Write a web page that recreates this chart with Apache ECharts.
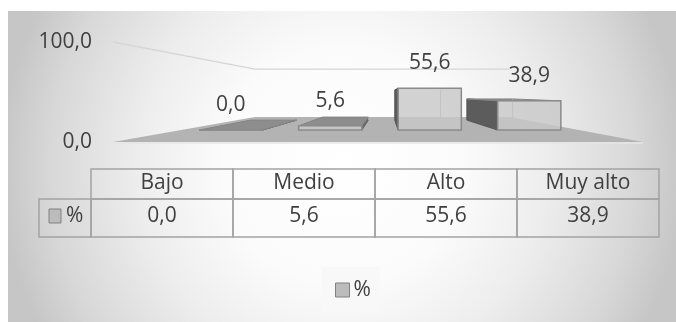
<!DOCTYPE html>
<html><head><meta charset="utf-8">
<script src="https://cdn.jsdelivr.net/npm/echarts@6/dist/echarts.min.js"></script>
<style>html,body{margin:0;padding:0;background:#fff}#c{width:676px;height:322px}</style>
</head><body><div id="c"></div>
<script>
// ---- data ----
const categories = ['Bajo', 'Medio', 'Alto', 'Muy alto'];
const values = [0.0, 5.6, 55.6, 38.9];
const seriesName = '%';
const yTicks = [0, 100];

// ---- style ----
const FONT = '"Open Sans", sans-serif';
const FS = 21;
const TXT = '#404040';
const fmt = v => Number(v).toFixed(1).replace('.', ',');

// perspective parameters (relative to the front-plane grid)
const VPX = 0.515, VPY = 0.52;
const T_FRONT = 0.249, T_BACK = 0.456, T_FLOOR = 0.52;

function vp(cs) { return [cs.x + cs.width * VPX, cs.y + cs.height * VPY]; }
function proj(cs, x, y, t) {
  const v = vp(cs);
  return [x + (v[0] - x) * t, y + (v[1] - y) * t];
}

function renderWalls(params, api) {
  const cs = params.coordSys;
  const x0 = cs.x, x1 = cs.x + cs.width;
  const yb = api.coord([0, yTicks[0]])[1];
  const yt = api.coord([0, yTicks[1]])[1];
  const floor = [proj(cs, x0, yb, 0), proj(cs, x1, yb, 0), proj(cs, x1, yb, T_FLOOR), proj(cs, x0, yb, T_FLOOR)];
  const g = [proj(cs, x0, yt, 0), proj(cs, x0, yt, T_FLOOR), proj(cs, x1, yt, T_FLOOR)];
  return {
    type: 'group', children: [
      { type: 'polyline', shape: { points: g }, style: { stroke: '#d6d6d6', lineWidth: 1.3, fill: null } },
      { type: 'line', shape: { x1: floor[0][0], y1: floor[0][1] + 1, x2: floor[1][0], y2: floor[1][1] + 1 }, style: { stroke: '#e6e6e6', lineWidth: 1.5 } },
      { type: 'polygon', shape: { points: floor }, style: { fill: '#b3b3b3' } }
    ]
  };
}

function renderBar(params, api) {
  const cs = params.coordSys;
  const i = api.value(0), v = api.value(1);
  const base = api.coord([i, 0]), top = api.coord([i, v]);
  const bw = api.size([1, 0])[0] * 0.635;
  const xl = base[0] - bw / 2, xr = base[0] + bw / 2;
  const P = (x, y, t) => proj(cs, x, y, t);
  const fl = P(xl, base[1], T_FRONT), fr = P(xr, base[1], T_FRONT);
  const ftl = P(xl, top[1], T_FRONT), ftr = P(xr, top[1], T_FRONT);
  const bl = P(xl, base[1], T_BACK), br = P(xr, base[1], T_BACK);
  const btl = P(xl, top[1], T_BACK), btr = P(xr, top[1], T_BACK);
  const V = vp(cs);
  const ch = [];
  if (xl > V[0]) {
    ch.push({ type: 'polygon', shape: { points: [bl, btl, ftl, fl] }, style: { fill: '#5c5c5c', stroke: '#555', lineWidth: 1 } });
  } else if (xr < V[0]) {
    ch.push({ type: 'polygon', shape: { points: [fr, ftr, btr, br] }, style: { fill: '#6a6a6a', stroke: '#666', lineWidth: 1 } });
  }
  if (top[1] > V[1]) {
    ch.push({ type: 'polygon', shape: { points: [ftl, ftr, btr, btl] }, style: { fill: '#8d8d8d', stroke: '#858585', lineWidth: 1 } });
  }
  if (v > 0) {
    ch.push({ type: 'line', shape: { x1: btr[0], y1: btr[1], x2: br[0], y2: br[1] }, style: { stroke: '#a8a8a8', lineWidth: 1 } });
  }
  ch.push({ type: 'polygon', shape: { points: [fl, fr, ftr, ftl] }, style: { fill: 'rgba(200,200,200,0.82)', stroke: '#8a8a8a', lineWidth: 1.5 } });
  ch.push({ type: 'text', style: { text: fmt(v), x: (ftl[0] + ftr[0]) / 2, y: ftl[1] - 25, fill: TXT, fontSize: FS, fontFamily: FONT, align: 'center', verticalAlign: 'middle' } });
  return { type: 'group', children: ch };
}

function renderTable(params, api) {
  const cs = params.coordSys;
  const i = api.value(0);
  const c = api.coord([i, 0]);
  const w = api.size([1, 0])[0];
  const x0 = c[0] - w / 2, x1 = c[0] + w / 2;
  const y0 = cs.y, yb = cs.y + cs.height, ym = cs.y + cs.height * 0.441;
  const line = { stroke: '#a3a3a3', lineWidth: 1.5, fill: null };
  const tx = (t, x, y, al) => ({ type: 'text', style: { text: t, x: x, y: y, fill: TXT, fontSize: FS, fontFamily: FONT, align: al || 'center', verticalAlign: 'middle' } });
  const ch = [
    { type: 'rect', shape: { x: x0, y: y0, width: w, height: ym - y0 }, style: line },
    { type: 'rect', shape: { x: x0, y: ym, width: w, height: yb - ym }, style: line },
    tx(categories[i], (x0 + x1) / 2, (y0 + ym) / 2 - 1),
    tx(fmt(api.value(1)), (x0 + x1) / 2, (ym + yb) / 2 - 2)
  ];
  if (i === 0) {
    const kx = x0 - 52, kc = (ym + yb) / 2 - 2;
    ch.push({ type: 'rect', shape: { x: kx, y: ym, width: 52, height: yb - ym }, style: line });
    ch.push({ type: 'rect', shape: { x: kx + 10, y: kc - 7, width: 12, height: 14 }, style: { fill: '#bcbcbc', stroke: '#808080', lineWidth: 1 } });
    ch.push(tx(seriesName, kx + 27, kc, 'left'));
  }
  return { type: 'group', children: ch };
}

const data = categories.map((c, i) => [i, values[i]]);

const chart = echarts.init(document.getElementById('c'));
chart.setOption({
  animation: false,
  backgroundColor: '#ffffff',
  textStyle: { fontFamily: FONT },
  graphic: [{
    type: 'rect', left: 8, top: 11, z: -100, silent: true,
    shape: { width: 668, height: 311 },
    style: {
      fill: {
        type: 'radial', x: 0.5, y: 0.5, r: 1.1,
        colorStops: [
          { offset: 0, color: '#ffffff' },
          { offset: 0.35, color: '#fbfbfb' },
          { offset: 0.6, color: '#ededed' },
          { offset: 0.85, color: '#d8d8d8' },
          { offset: 1, color: '#c6c6c6' }
        ]
      }
    }
  }],
  grid: [
    { left: 113, right: 33, top: 42, bottom: 180 },
    { left: 91, right: 17, top: 169, bottom: 85 }
  ],
  xAxis: [
    { type: 'category', data: categories, gridIndex: 0, show: false },
    { type: 'category', data: categories, gridIndex: 1, show: false }
  ],
  yAxis: [
    {
      type: 'value', gridIndex: 0, min: yTicks[0], max: yTicks[1], interval: 100,
      axisLine: { show: false }, axisTick: { show: false }, splitLine: { show: false },
      axisLabel: { formatter: fmt, color: TXT, fontSize: FS, fontFamily: FONT, margin: 21 }
    },
    { type: 'value', gridIndex: 1, min: 0, max: 1, show: false }
  ],
  legend: {
    data: [seriesName], left: 322, top: 267, padding: [12, 9, 11, 13],
    backgroundColor: '#f8f8f8', icon: 'rect', itemWidth: 14, itemHeight: 14, itemGap: 5,
    itemStyle: { color: '#bcbcbc', borderColor: '#808080', borderWidth: 1 },
    textStyle: { color: TXT, fontSize: FS, fontFamily: FONT, lineHeight: 22, padding: [0, 0, 0, -1] }
  },
  series: [
    { type: 'custom', name: 'walls', xAxisIndex: 0, yAxisIndex: 0, z: 1, silent: true, data: [[0, 0]], renderItem: renderWalls },
    { type: 'custom', name: seriesName, xAxisIndex: 0, yAxisIndex: 0, z: 3, data: data, renderItem: renderBar,
      itemStyle: { color: '#bcbcbc', borderColor: '#808080', borderWidth: 1 } },
    { type: 'custom', name: 'table', xAxisIndex: 1, yAxisIndex: 1, z: 3, silent: true, data: data, renderItem: renderTable }
  ]
});
</script>
</body></html>
